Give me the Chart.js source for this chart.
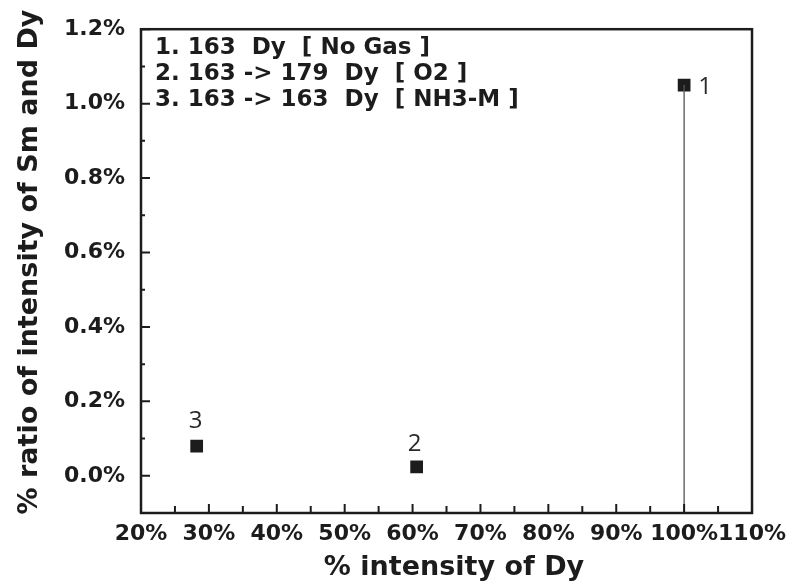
<!DOCTYPE html>
<html>
<head>
<meta charset="utf-8">
<script src="https://cdn.jsdelivr.net/npm/chart.js@4/dist/chart.umd.min.js"></script>
<style>
  html, body { margin: 0; padding: 0; background: #ffffff; }
  #wrap { width: 794px; height: 587px; }
</style>
</head>
<body>
<div id="wrap"><canvas id="chart" width="794" height="587"></canvas></div>
<script>
// Sample numbers and measured values
const pointIds = ['1', '2', '3'];
const dyIntensity = [100, 60.6, 28.2];      // % intensity of Dy
const smDyRatio = [1.05, 0.024, 0.08];      // % ratio of Sm / Dy intensity

// Legend text shown inside the plot
const legendLines = [
  '1. 163  Dy  [ No Gas ]',
  '2. 163 -> 179  Dy  [ O2 ]',
  '3. 163 -> 163  Dy  [ NH3-M ]'
];

// Axis titles
const xTitle = '% intensity of Dy';
const yTitle = '% ratio of intensity of Sm and Dy';

// Axis ticks
const xTicks = [20, 30, 40, 50, 60, 70, 80, 90, 100, 110];
const xMinorTicks = [25, 35, 45, 55, 65, 75, 85, 95, 105];
const yTicks = [0.0, 0.2, 0.4, 0.6, 0.8, 1.0, 1.2];
const yMinorTicks = [-0.1, 0.1, 0.3, 0.5, 0.7, 0.9, 1.1];
const xRange = [20, 110];
const yRange = [-0.1, 1.2];

const INK = '#1c1c1c';
const FONT = '"DejaVu Sans", Verdana, sans-serif';

// Frame, inward tick marks, titles, legend text and point numbers
const decorations = {
  id: 'decorations',
  afterDatasetsDraw(chart) {
    const { ctx, chartArea: a, scales: { x, y } } = chart;
    ctx.save();
    ctx.strokeStyle = INK;
    ctx.lineWidth = 2;
    ctx.beginPath();
    xTicks.forEach(v => { const px = x.getPixelForValue(v); ctx.moveTo(px, a.bottom); ctx.lineTo(px, a.bottom - 9); });
    xMinorTicks.forEach(v => { const px = x.getPixelForValue(v); ctx.moveTo(px, a.bottom); ctx.lineTo(px, a.bottom - 7); });
    yTicks.forEach(v => { const py = y.getPixelForValue(v); ctx.moveTo(a.left, py); ctx.lineTo(a.left + 9, py); });
    yMinorTicks.forEach(v => { const py = y.getPixelForValue(v); ctx.moveTo(a.left, py); ctx.lineTo(a.left + 4, py); });
    ctx.stroke();

    ctx.lineWidth = 2.5;
    ctx.strokeRect(a.left, a.top, a.right - a.left, a.bottom - a.top);

    ctx.fillStyle = INK;
    ctx.font = 'bold 23px ' + FONT;
    ctx.textAlign = 'left';
    ctx.textBaseline = 'middle';
    legendLines.forEach((t, i) => ctx.fillText(t, a.left + 14, 48 + i * 26));

    // axis titles
    ctx.font = 'bold 27px ' + FONT;
    ctx.textAlign = 'center';
    ctx.fillText(xTitle, 454, 568);
    ctx.save();
    ctx.translate(37, 262);
    ctx.rotate(-Math.PI / 2);
    ctx.textBaseline = 'alphabetic';
    ctx.fillText(yTitle, 0, 0);
    ctx.restore();

    // point numbers
    ctx.fillStyle = '#2a2a2a';
    ctx.font = '24px "Open Sans", "DejaVu Sans", sans-serif';
    ctx.textAlign = 'center';
    ctx.textBaseline = 'middle';
    const offsets = [[21, 2], [-2, -23], [-1, -25]];
    pointIds.forEach((id, i) => {
      const px = x.getPixelForValue(dyIntensity[i]);
      const py = y.getPixelForValue(smDyRatio[i]);
      ctx.fillText(id, px + offsets[i][0], py + offsets[i][1]);
    });
    ctx.restore();
  }
};

new Chart(document.getElementById('chart'), {
  type: 'scatter',
  data: {
    datasets: [
      {
        type: 'line',
        data: [
          { x: dyIntensity[0], y: yRange[0] },
          { x: dyIntensity[0], y: smDyRatio[0] }
        ],
        borderColor: '#555555',
        borderWidth: 1.3,
        pointRadius: 0,
        fill: false
      },
      {
        data: dyIntensity.map((v, i) => ({ x: v, y: smDyRatio[i] })),
        pointStyle: 'rect',
        pointRadius: 9,
        pointHoverRadius: 9,
        backgroundColor: INK,
        borderWidth: 0
      }
    ]
  },
  options: {
    responsive: false,
    animation: false,
    devicePixelRatio: 1,
    layout: { padding: { left: 0, top: 25, right: 38, bottom: 0 } },
    plugins: { legend: { display: false }, tooltip: { enabled: false } },
    scales: {
      x: {
        type: 'linear',
        min: xRange[0],
        max: xRange[1],
        afterBuildTicks: s => { s.ticks = xTicks.map(v => ({ value: v })); },
        afterFit: s => { s.height = 74; },
        grid: { display: false, drawTicks: false },
        border: { display: false },
        ticks: {
          color: INK,
          font: { family: FONT, weight: 'bold', size: 22 },
          padding: 8,
          maxRotation: 0,
          autoSkip: false,
          callback: v => v + '%'
        }
      },
      y: {
        type: 'linear',
        min: yRange[0],
        max: yRange[1],
        afterBuildTicks: s => { s.ticks = yTicks.map(v => ({ value: v })); },
        afterFit: s => { s.width = 141; },
        grid: { display: false, drawTicks: false },
        border: { display: false },
        ticks: {
          color: INK,
          font: { family: FONT, weight: 'bold', size: 22 },
          padding: 16,
          autoSkip: false,
          callback: v => v.toFixed(1) + '%'
        }
      }
    }
  },
  plugins: [decorations]
});
</script>
</body>
</html>
